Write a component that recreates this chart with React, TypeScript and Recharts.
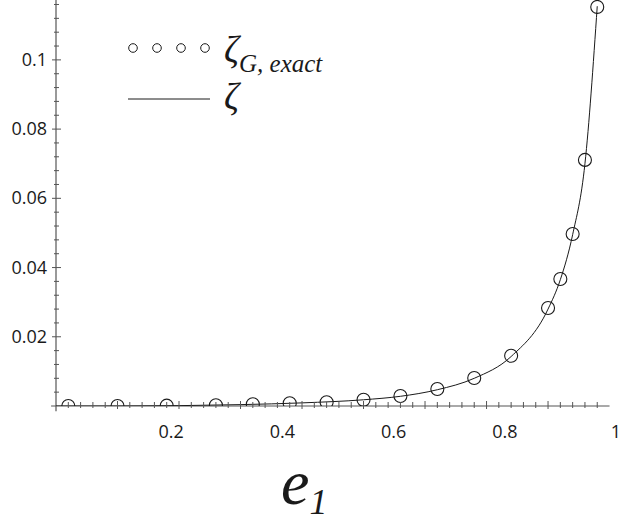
import React from "react";
import {
  ComposedChart,
  Line,
  Scatter,
  XAxis,
  YAxis,
  ReferenceLine,
} from "recharts";

// circles: zeta_G, exact
const exactE = [0.02, 0.1, 0.18, 0.26, 0.32, 0.38, 0.44, 0.5, 0.56, 0.62, 0.68, 0.74, 0.8, 0.82, 0.84, 0.86, 0.88];
const exactZeta = [0, 0, 0.0001, 0.0002, 0.0005, 0.0008, 0.0011, 0.0018, 0.0029, 0.0049, 0.0081, 0.0145, 0.0283, 0.0367, 0.0497, 0.0711, 0.1153];

// solid curve: zeta
const curveE = [0, 0.1, 0.2, 0.3, 0.4, 0.5, 0.56, 0.62, 0.68, 0.74, 0.8, 0.82, 0.84, 0.86, 0.88];
const curveZeta = [0, 0, 0.0001, 0.0004, 0.0009, 0.0018, 0.0028, 0.0047, 0.008, 0.0143, 0.028, 0.0365, 0.0495, 0.07, 0.1155];

// tick labels (typeset separately from the tick marks in the original)
const xLabels = [0.2, 0.4, 0.6, 0.8, 1];
const yLabels = [0.02, 0.04, 0.06, 0.08, 0.1];

const xMarks = Array.from({ length: 44 }, (_, i) => +(0.02 * (i + 1)).toFixed(2));
const yMarks = Array.from({ length: 29 }, (_, i) => +(0.004 * (i + 1)).toFixed(3));

const exactData = exactE.map((e, i) => ({ e, z: exactZeta[i] }));
const curveData = curveE.map((e, i) => ({ e, z: curveZeta[i] }));
const labelData = xLabels.map((e) => ({ e, z: 0 }));

const AXIS = "#555";
const INK = "#1a1a1a";
const LABEL_FONT = "'Open Sans', sans-serif";
const MATH_FONT = "'Liberation Serif', 'DejaVu Serif', serif";

const XMark = (props: any) => {
  const { x, payload } = props;
  const y = props.y - 1;
  const major = Math.round(payload.value * 100) % 10 === 0;
  const h = major ? 4 : 3;
  return <line x1={x} x2={x} y1={y - h} y2={y + h} stroke={AXIS} strokeWidth={1} />;
};

const XLabel = (props: any) => {
  const { x, y, payload } = props;
  return (
    <text x={x} y={y} dy={31} textAnchor="middle" fontSize={18} fontFamily={LABEL_FONT} fill={INK}>
      {String(payload.value)}
    </text>
  );
};

const YTick = (props: any) => {
  const { x, y, payload } = props;
  const major = yLabels.some((v) => Math.abs(v - payload.value) < 1e-6);
  return (
    <g>
      <line x1={x - (major ? 4 : 2)} x2={x + (major ? 5 : 3)} y1={y} y2={y} stroke={AXIS} strokeWidth={1} />
      {major && (
        <text x={x - 9} y={y} dy={6} textAnchor="end" fontSize={18} fontFamily={LABEL_FONT} fill={INK}>
          {String(payload.value)}
        </text>
      )}
    </g>
  );
};

const OpenCircle = (props: any) => (
  <circle cx={props.cx} cy={props.cy} r={6.5} fill="none" stroke={INK} strokeWidth={1.1} />
);

const NoShape = () => <g />;

export default function App() {
  return (
    <div style={{ position: "absolute", left: 0, top: 0, width: 620, height: 529, background: "#fff" }}>
      <ComposedChart width={620} height={529} margin={{ top: 0, right: 0, bottom: 121, left: 0 }}>
        <XAxis
          xAxisId={0}
          dataKey="e"
          type="number"
          domain={[0, 0.917]}
          allowDataOverflow
          ticks={xMarks}
          interval={0}
          height={1}
          axisLine={false}
          tickLine={false}
          tickSize={0}
          tickMargin={0}
          tick={<XMark />}
        />
        <XAxis
          xAxisId="lab"
          dataKey="e"
          type="number"
          domain={[-0.0072, 1.0072]}
          allowDataOverflow
          ticks={xLabels}
          interval={0}
          height={1}
          axisLine={false}
          tickLine={false}
          tickSize={0}
          tickMargin={0}
          tick={<XLabel />}
        />
        <YAxis
          dataKey="z"
          type="number"
          domain={[0, 0.1173]}
          allowDataOverflow
          ticks={yMarks}
          interval={0}
          width={56}
          axisLine={false}
          tickLine={false}
          tickSize={0}
          tickMargin={0}
          tick={<YTick />}
        />
        <ReferenceLine
          segment={[{ x: -0.008, y: 0 }, { x: 0.9, y: 0 }]}
          stroke={AXIS}
          strokeWidth={1.2}
          ifOverflow="visible"
        />
        <ReferenceLine
          segment={[{ x: 0, y: -0.0015 }, { x: 0, y: 0.1173 }]}
          stroke={AXIS}
          strokeWidth={1.2}
          ifOverflow="visible"
        />
        <Scatter
          xAxisId="lab"
          data={labelData}
          dataKey="z"
          shape={<NoShape />}
          isAnimationActive={false}
        />
        <Line
          data={curveData}
          dataKey="z"
          type="monotone"
          stroke={INK}
          strokeWidth={1}
          dot={false}
          isAnimationActive={false}
        />
        <Scatter data={exactData} dataKey="z" shape={<OpenCircle />} isAnimationActive={false} />
      </ComposedChart>

      <svg
        width={620}
        height={529}
        style={{ position: "absolute", left: 0, top: 0, pointerEvents: "none" }}
      >
        {[133, 157, 181, 205].map((cx) => (
          <circle key={cx} cx={cx} cy={48} r={4.3} fill="none" stroke={INK} strokeWidth={1} />
        ))}
        <text x={224} y={62} fontFamily={MATH_FONT} fontStyle="italic" fill={INK}>
          <tspan fontSize={37}>ζ</tspan>
          <tspan fontSize={25} dy={10}>G, exact</tspan>
        </text>
        <line x1={128} x2={210} y1={99} y2={99} stroke={INK} strokeWidth={1} />
        <text x={224} y={109} fontFamily={MATH_FONT} fontStyle="italic" fontSize={37} fill={INK}>
          ζ
        </text>
        <text x={281} y={504} fontFamily={MATH_FONT} fontStyle="italic" fill={INK}>
          <tspan fontSize={64}>e</tspan>
          <tspan fontSize={36} dy={10}>1</tspan>
        </text>
      </svg>
    </div>
  );
}
